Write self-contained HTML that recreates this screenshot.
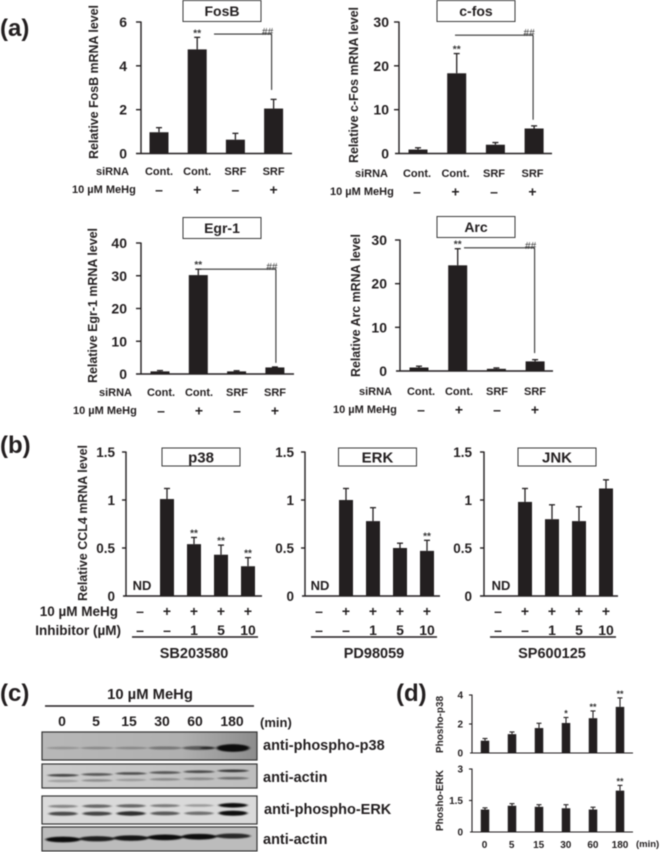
<!DOCTYPE html>
<html lang="en">
<head>
<meta charset="utf-8">
<title>MeHg induced gene expression figure</title>
<style>
html,body{margin:0;padding:0;background:#fff;width:660px;height:852px;overflow:hidden}
svg{display:block;filter:blur(0.4px)}
text{font-family:"Liberation Sans",Arial,sans-serif;font-weight:bold;fill:#231f20}
</style>
</head>
<body>
<svg id="figure" xmlns="http://www.w3.org/2000/svg" width="660" height="852" viewBox="0 0 660 852">
  <defs>
    <filter id="band-blur" x="-30%" y="-150%" width="160%" height="400%"><feGaussianBlur stdDeviation="1.2 0.6"/></filter>
    <linearGradient id="blot-p38-bg" x1="0" x2="1" y1="0" y2="0"><stop offset="0" stop-color="#b8b8b8"/><stop offset="0.65" stop-color="#b0b0b0"/><stop offset="1" stop-color="#8c8c8c"/></linearGradient>
    <linearGradient id="blot-actin1-bg" x1="0" x2="1" y1="0" y2="0"><stop offset="0" stop-color="#cdcdcd"/><stop offset="1" stop-color="#bdbdbd"/></linearGradient>
  </defs>
</svg>
<script>
// ---------- (a) siRNA panels ----------
const sirnaCategories = ['Cont.', 'Cont.', 'SRF', 'SRF'];
const mehgSigns = ['–', '+', '–', '+'];
const fosbTicks = ['0', '2', '4', '6'];
const fosbValues = [0.97, 4.75, 0.63, 2.05];
const fosbErrTops = [1.18, 5.3, 0.92, 2.47];
const fosbStars = ['', '**', '', ''];
const fosbBracket = [5.45, 2.9];
const cfosTicks = ['0', '10', '20', '30'];
const cfosValues = [0.9, 18.3, 2.0, 5.7];
const cfosErrTops = [1.3, 22.8, 2.5, 6.3];
const cfosStars = ['', '**', '', ''];
const cfosBracket = [27, 7.7];
const egr1Ticks = ['0', '10', '20', '30', '40'];
const egr1Values = [0.8, 30.2, 0.8, 2.0];
const egr1ErrTops = [1.05, 32, 1.0, 2.15];
const egr1Stars = ['', '**', '', ''];
const egr1Bracket = [32, 3.4];
const arcTicks = ['0', '10', '20', '30'];
const arcValues = [0.8, 24.2, 0.5, 2.2];
const arcErrTops = [1.1, 28, 0.7, 2.6];
const arcStars = ['', '**', '', ''];
const arcBracket = [28.2, 4.1];

// ---------- (b) inhibitor panels ----------
const inhibitorTicks = ['0', '0.5', '1', '1.5'];
const inhibitorMehgRow = ['–', '+', '+', '+', '+'];
const inhibitorDoseRow = ['–', '–', '1', '5', '10'];
const p38Values = [1.01, 0.54, 0.43, 0.31];
const p38ErrTops = [1.12, 0.61, 0.53, 0.40];
const p38Stars = ['', '**', '**', '**'];
const erkValues = [1.0, 0.78, 0.5, 0.47];
const erkErrTops = [1.12, 0.92, 0.55, 0.58];
const erkStars = ['', '', '', '**'];
const jnkValues = [0.98, 0.80, 0.78, 1.12];
const jnkErrTops = [1.12, 0.95, 0.93, 1.21];
const jnkStars = ['', '', '', ''];

// ---------- (d) time course panels ----------
const timeLabels = ['0', '5', '15', '30', '60', '180'];
const phosphoP38Ticks = ['0', '2', '4'];
const phosphoP38Values = [0.85, 1.3, 1.72, 2.07, 2.4, 3.18];
const phosphoP38ErrTops = [1.0, 1.45, 2.05, 2.45, 2.9, 3.8];
const phosphoP38Stars = ['', '', '', '*', '**', '**'];
const phosphoErkTicks = ['0', '1.5', '3'];
const phosphoErkValues = [1.07, 1.25, 1.2, 1.13, 1.07, 1.97];
const phosphoErkErrTops = [1.15, 1.35, 1.3, 1.3, 1.18, 2.22];
const phosphoErkStars = ['', '', '', '', '', '**'];

// ---------- (c) blot band darkness per lane (0-1) ----------
const lanes = ['0', '5', '15', '30', '60', '180'];
const p38BandDarkness = [0.2, 0.25, 0.25, 0.4, 0.55, 1.0];
const p38CoreDarkness = [0, 0, 0, 0, 0.7, 0];
const actinUpperDarkness = [0.75, 0.65, 0.7, 0.65, 0.7, 0.8];
const actinLowerDarkness = [0.22, 0.3, 0.22, 0.3, 0.35, 0.5];
const erkUpperDarkness = [0.45, 0.6, 0.6, 0.5, 0.3, 1.0];
const erkLowerDarkness = [0.72, 0.75, 0.85, 0.65, 0.55, 1.0];
const actin2Darkness = [1.0, 0.9, 0.95, 1.0, 1.0, 0.85];

const INK = '#231f20';
const svg = document.getElementById('figure');

function mk(tag, attrs, name, parent) {
  const el = document.createElementNS('http://www.w3.org/2000/svg', tag);
  for (const k in attrs) el.setAttribute(k, attrs[k]);
  
  
  (parent || svg).appendChild(el);
  return el;
}
function txt(str, x, y, size, anchor, name, extra, parent) {
  const a = Object.assign({x: x, y: y, 'font-size': size, 'text-anchor': anchor || 'start'}, extra || {});
  const el = mk('text', a, name, parent);
  el.textContent = str;
  return el;
}
function line(x1, y1, x2, y2, w, name, color, parent) {
  return mk('line', {x1: x1, y1: y1, x2: x2, y2: y2, stroke: color || INK, 'stroke-width': w}, name, parent);
}

function drawPanel(p) {
  const g = mk('g', {}, p.id + '-chart');
  const ticks = p.ticks.map(Number);
  const maxV = ticks[ticks.length - 1];
  const yOf = v => p.zero - (v / maxV) * (p.zero - p.top);
  const xOf = i => p.x0 + i * p.step;

  // bars and error bars
  p.values.forEach((v, i) => {
    const cx = xOf(i);
    const topErr = yOf(p.errTops[i]);
    line(cx, yOf(v), cx, topErr, p.errW || 1.3, p.id + '-error-stem-' + i, INK, g);
    line(cx - p.cap / 2, topErr, cx + p.cap / 2, topErr, p.errW || 1.3, p.id + '-error-cap-' + i, INK, g);
    mk('rect', {x: cx - p.barW / 2, y: yOf(v), width: p.barW, height: p.zero - yOf(v), fill: INK}, p.id + '-bar-' + i, g);
    if (p.stars[i]) {
      txt(p.stars[i], cx + (p.starDx || 0), topErr - 1, p.starSize || 10, 'middle', p.id + '-significance-' + i, {style: 'fill:#333'}, g);
    }
  });

  // axes
  line(p.axisX, p.top - 0.5, p.axisX, p.zero, p.axisW, p.id + '-y-axis', INK, g);
  line(p.baseL, p.zero, p.baseR, p.zero, p.axisW, p.id + '-x-axis', INK, g);
  p.ticks.forEach((t, i) => {
    const y = yOf(ticks[i]);
    if (ticks[i] !== 0) line(p.axisX - p.tickLen, y, p.axisX, y, p.axisW, p.id + '-y-tick-' + t, INK, g);
    txt(t, p.tickRight, y + p.tickSize * 0.36, p.tickSize, 'end', p.id + '-y-tick-label-' + t, {}, g);
  });

  // y axis title
  if (p.yTitle) {
    txt(p.yTitle, 0, 0, p.yTitleSize, 'start', p.id + '-y-axis-title', {
      transform: 'translate(' + p.yTitleX + ' ' + p.yTitleBottom + ') rotate(-90)',
      textLength: p.yTitleLen, lengthAdjust: 'spacingAndGlyphs'
    }, g);
  }

  // title box
  if (p.title) {
    mk('rect', {x: p.boxX, y: p.boxY, width: 78, height: p.boxH, fill: '#fff', stroke: '#3a3a3a', 'stroke-width': 1}, p.id + '-title-box', g);
    txt(p.title, p.boxX + 39, p.boxY + p.boxH / 2 + p.titleSize * 0.36, p.titleSize, 'middle', p.id + '-title', {}, g);
  }

  // bracket
  if (p.bracket) {
    const by = yOf(p.bracket[0]);
    const ey = yOf(p.bracket[1]);
    const bx = xOf(3) + p.brDx;
    line(p.brStart, by, bx, by, 1.1, p.id + '-bracket-horizontal', '#333', g);
    line(bx, by, bx, ey, 1.1, p.id + '-bracket-vertical', '#333', g);
    txt('##', bx - 4, by + 1, 10, 'middle', p.id + '-bracket-significance', {style: 'font-weight:normal;fill:#333'}, g);
  }
  return {xOf: xOf, g: g};
}

function drawSirnaPanel(p) {
  const r = drawPanel(p);
  txt('siRNA', p.siX, p.siY, 11, 'end', p.id + '-sirna-label', {}, r.g);
  txt('10 µM MeHg', p.meX, p.meY, 11, 'start', p.id + '-mehg-label', {}, r.g);
  sirnaCategories.forEach((c, i) => {
    txt(c, p.catX + i * p.catStep, p.siY, 11, 'middle', p.id + '-sirna-category-' + i, {}, r.g);
    txt(mehgSigns[i], p.catX + i * p.catStep, p.meY + 1.5, 14, 'middle', p.id + '-mehg-sign-' + i, {}, r.g);
  });
}

const baseSirna = {barW: 19, cap: 6, axisW: 1.4, tickLen: 5, tickSize: 14, yTitleSize: 13, titleSize: 14, boxH: 21};

drawSirnaPanel(Object.assign({}, baseSirna, {
  id: 'fosb', ticks: fosbTicks, values: fosbValues, errTops: fosbErrTops, stars: fosbStars, bracket: fosbBracket,
  top: 22, zero: 153.5, x0: 159, step: 38.2, axisX: 141, baseL: 136, baseR: 292, tickRight: 127,
  yTitle: 'Relative FosB mRNA level', yTitleX: 98, yTitleBottom: 159, yTitleLen: 154,
  title: 'FosB', boxX: 183, boxY: 0.5, brStart: 214, brDx: -2,
  siX: 129, siY: 175, meX: 72, meY: 193, catX: 159, catStep: 38.2
}));
drawSirnaPanel(Object.assign({}, baseSirna, {
  id: 'cfos', ticks: cfosTicks, values: cfosValues, errTops: cfosErrTops, stars: cfosStars, bracket: cfosBracket,
  top: 22, zero: 153.5, x0: 418, step: 38.7, axisX: 399, baseL: 395, baseR: 552, tickRight: 389,
  yTitle: 'Relative c-Fos mRNA level', yTitleX: 358, yTitleBottom: 163, yTitleLen: 156,
  title: 'c-fos', boxX: 437, boxY: 0.5, brStart: 455, brDx: -1,
  siX: 388, siY: 177, meX: 330, meY: 195, catX: 417, catStep: 38.5
}));
drawSirnaPanel(Object.assign({}, baseSirna, {
  id: 'egr1', ticks: egr1Ticks, values: egr1Values, errTops: egr1ErrTops, stars: egr1Stars, bracket: egr1Bracket,
  top: 243, zero: 374, x0: 160, step: 38.3, axisX: 141, baseL: 136, baseR: 294, tickRight: 127,
  yTitle: 'Relative Egr-1 mRNA level', yTitleX: 97, yTitleBottom: 383, yTitleLen: 155,
  title: 'Egr-1', boxX: 183, boxY: 217.5, brStart: 200, brDx: 1,
  siX: 132, siY: 396, meX: 73, meY: 414, catX: 161, catStep: 38
}));
drawSirnaPanel(Object.assign({}, baseSirna, {
  id: 'arc', ticks: arcTicks, values: arcValues, errTops: arcErrTops, stars: arcStars, bracket: arcBracket,
  top: 240, zero: 371, x0: 419, step: 38.7, axisX: 400, baseL: 396, baseR: 553, tickRight: 387,
  yTitle: 'Relative Arc mRNA level', yTitleX: 360, yTitleBottom: 377, yTitleLen: 143,
  title: 'Arc', boxX: 437, boxY: 216.5, brStart: 464, brDx: -0.5,
  siX: 392, siY: 395, meX: 333, meY: 413, catX: 421, catStep: 38
}));

function drawInhibitorPanel(p) {
  const r = drawPanel(Object.assign({
    ticks: inhibitorTicks, top: 452, zero: 596, barW: 14, cap: 6, axisW: 1.4, tickLen: 4, tickSize: 13.5,
    titleSize: 15, boxH: 18, boxY: 448, step: 27, x0: p.firstX + 27
  }, p));
  txt('ND', p.ndX, 590, 13, 'middle', p.id + '-not-detected-label', {}, r.g);
  inhibitorMehgRow.forEach((s, i) => {
    txt(s, p.firstX + i * 27, 616, 14, 'middle', p.id + '-mehg-sign-' + i, {}, r.g);
  });
  inhibitorDoseRow.forEach((s, i) => {
    txt(s, p.firstX + i * 27, 635, 14, 'middle', p.id + '-inhibitor-dose-' + i, {}, r.g);
  });
  line(p.firstX - 8, 637, p.firstX + 118, 637, 1.4, p.id + '-inhibitor-underline', INK, r.g);
  txt(p.inhibitor, p.inhibitorX, 658, 14.5, 'middle', p.id + '-inhibitor-name', {}, r.g);
}
drawInhibitorPanel({
  id: 'p38', values: p38Values, errTops: p38ErrTops, stars: p38Stars, firstX: 140, ndX: 142,
  axisX: 126, baseL: 123, baseR: 262, tickRight: 115,
  yTitle: 'Relative CCL4 mRNA level', yTitleX: 87, yTitleBottom: 601, yTitleLen: 156, yTitleSize: 13,
  title: 'p38', boxX: 162, inhibitor: 'SB203580', inhibitorX: 194
});
drawInhibitorPanel({
  id: 'erk', values: erkValues, errTops: erkErrTops, stars: erkStars, firstX: 319, ndX: 320,
  axisX: 305, baseL: 302, baseR: 440, tickRight: 294,
  yTitle: '', yTitleX: 0, yTitleBottom: 0, yTitleLen: 1, yTitleSize: 12,
  title: 'ERK', boxX: 338.5, inhibitor: 'PD98059', inhibitorX: 374
});
drawInhibitorPanel({
  id: 'jnk', values: jnkValues, errTops: jnkErrTops, stars: jnkStars, firstX: 498, ndX: 501,
  axisX: 484, baseL: 480, baseR: 618, tickRight: 472,
  yTitle: '', yTitleX: 0, yTitleBottom: 0, yTitleLen: 1, yTitleSize: 12,
  title: 'JNK', boxX: 518, inhibitor: 'SP600125', inhibitorX: 552
});

const baseTime = {barW: 8.5, cap: 5, axisW: 1.1, tickLen: 3, tickSize: 10, x0: 485, step: 27, axisX: 472, baseL: 470, baseR: 633, tickRight: 463, yTitleSize: 10, yTitleX: 443, errW: 1.1, starSize: 9};
drawPanel(Object.assign({}, baseTime, {
  id: 'phospho-p38', ticks: phosphoP38Ticks, values: phosphoP38Values, errTops: phosphoP38ErrTops, stars: phosphoP38Stars,
  top: 695, zero: 753, yTitle: 'Phosho-p38', yTitleBottom: 753, yTitleLen: 57
}));
drawPanel(Object.assign({}, baseTime, {
  id: 'phospho-erk', ticks: phosphoErkTicks, values: phosphoErkValues, errTops: phosphoErkErrTops, stars: phosphoErkStars,
  top: 769, zero: 832, yTitle: 'Phosho-ERK', yTitleBottom: 831, yTitleLen: 61
}));
timeLabels.forEach((t, i) => {
  txt(t, 484.5 + i * 27.1, 848, 10, 'middle', 'time-label-' + t);
});
txt('(min)', 636, 847, 9.5, 'start', 'time-unit-label');

// ---------- blots ----------
const laneX = i => 63 + i * 34;
function drawBlot(name, y, h, bg, bandRows) {
  const g = mk('g', {}, name);
  const clipId = name + '-clip';
  const clip = mk('clipPath', {id: clipId}, name + '-clip-region', g);
  mk('rect', {x: 42, y: y, width: 215, height: h}, name + '-clip-rect', clip);
  mk('rect', {x: 42, y: y, width: 215, height: h, fill: bg}, name + '-background', g);
  const bands = mk('g', {'clip-path': 'url(#' + clipId + ')', filter: 'url(#band-blur)'}, name + '-bands', g);
  bandRows.forEach(row => {
    row.dark.forEach((d, i) => {
      if (!d) return;
      const ry = row.ry * (1 + (row.grow || 0) * d * d);
      mk('ellipse', {cx: laneX(i) + (row.dx || 0), cy: row.y + (row.slope || 0) * i, rx: row.rx, ry: ry, fill: '#111', opacity: d}, name + '-band-' + i, bands);
    });
  });
  mk('rect', {x: 42, y: y, width: 215, height: h, fill: 'none', stroke: '#333', 'stroke-width': 1.2}, name + '-frame', g);
}
drawBlot('blot-phospho-p38', 732, 28, 'url(#blot-p38-bg)', [
  {y: 748, rx: 16.5, ry: 1.1, grow: 2.5, dark: p38BandDarkness},
  {y: 748, dx: 8, rx: 7, ry: 1.1, dark: p38CoreDarkness}
]);
drawBlot('blot-actin-1', 764, 24, 'url(#blot-actin1-bg)', [
  {y: 775.3, slope: -0.9, rx: 15.5, ry: 1.3, dark: actinUpperDarkness},
  {y: 781, slope: -0.55, rx: 15.5, ry: 1.3, dark: actinLowerDarkness}
]);
drawBlot('blot-phospho-erk', 796, 28, '#dadada', [
  {y: 806.3, slope: -0.2, rx: 14.5, ry: 1.2, grow: 0.9, dark: erkUpperDarkness},
  {y: 813.7, slope: -0.1, rx: 14.5, ry: 1.4, grow: 0.8, dark: erkLowerDarkness}
]);
drawBlot('blot-actin-2', 827, 24, '#bcbcbc', [
  {y: 839.5, slope: -0.7, rx: 17.5, ry: 1.6, grow: 0.8, dark: actin2Darkness}
]);

txt('10 µM MeHg', 150, 699, 14.8, 'middle', 'blot-treatment-label');
line(45, 706, 254, 706, 1.5, 'blot-treatment-underline');
lanes.forEach((t, i) => {
  txt(t, [62, 96, 129, 162, 195, 232][i], 726, 14, 'middle', 'blot-lane-label-' + t);
});
txt('(min)', 260, 727, 13, 'start', 'blot-time-unit');
txt('anti-phospho-p38', 263, 750, 14.5, 'start', 'antibody-label-phospho-p38');
txt('anti-actin', 263, 782, 14.5, 'start', 'antibody-label-actin-1');
txt('anti-phospho-ERK', 264, 814, 14.5, 'start', 'antibody-label-phospho-erk');
txt('anti-actin', 263, 844, 14.5, 'start', 'antibody-label-actin-2');

// ---------- panel letters ----------
txt('(a)', 0, 36, 24, 'start', 'panel-label-a');
txt('(b)', 0, 453, 24, 'start', 'panel-label-b');
txt('(c)', 0, 701, 24, 'start', 'panel-label-c');
txt('(d)', 396, 701, 24, 'start', 'panel-label-d');

// row captions for panel (b)
txt('10 µM MeHg', 118, 616, 13.5, 'end', 'inhibitor-mehg-row-label');
txt('Inhibitor (µM)', 121, 635, 13.5, 'end', 'inhibitor-dose-row-label');
</script>
</body>
</html>
